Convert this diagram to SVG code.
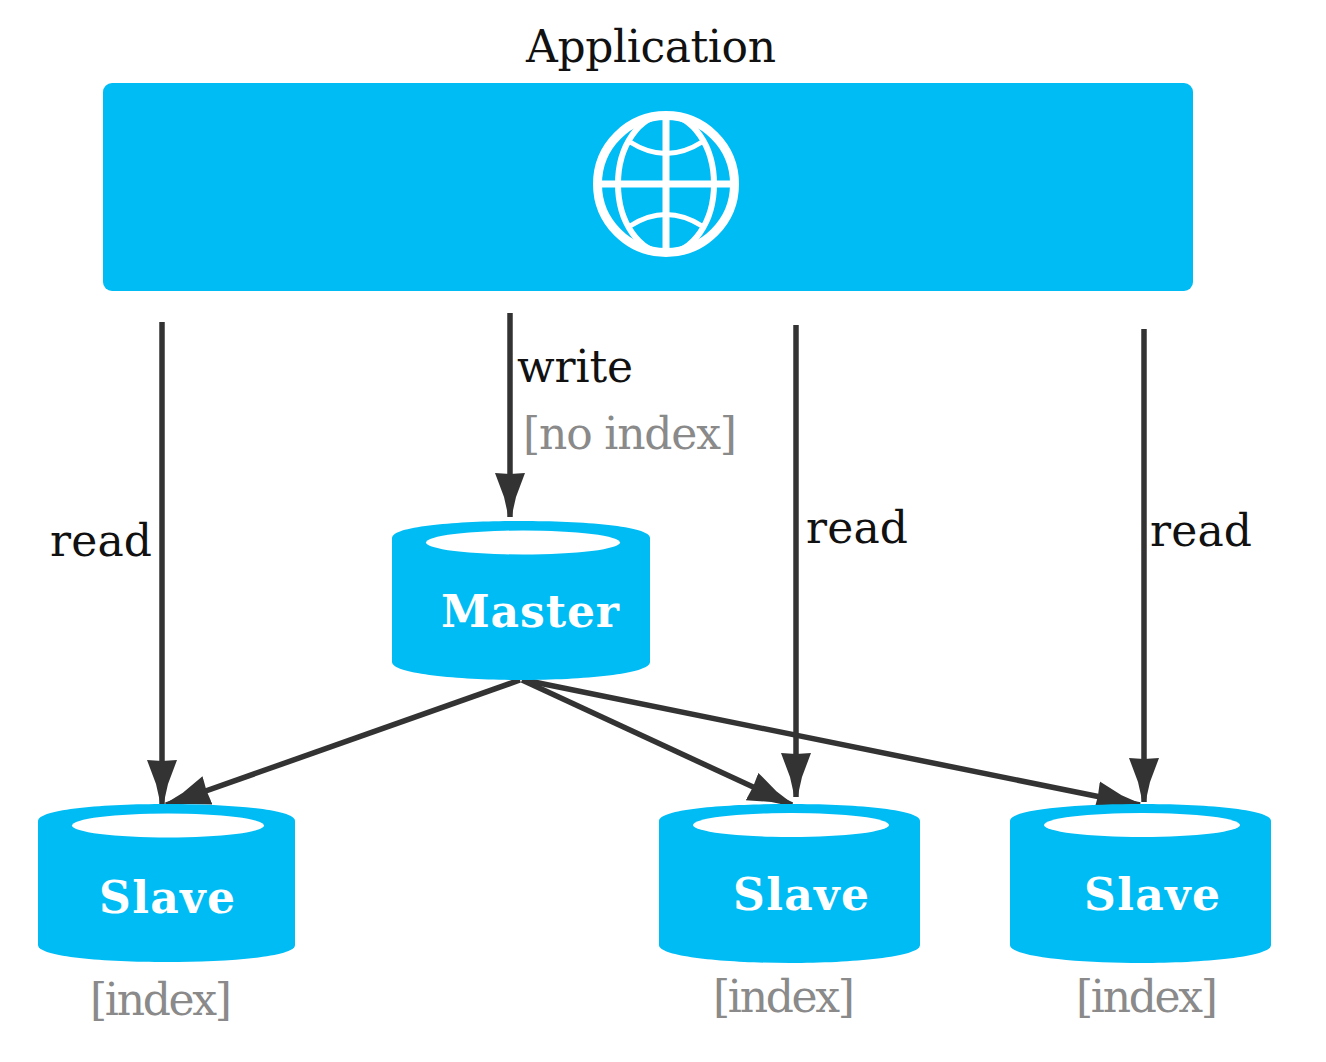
<svg xmlns="http://www.w3.org/2000/svg" width="1326" height="1062" viewBox="0 0 1326 1062">
<style>
text{font-family:"DejaVu Serif","Liberation Serif",serif}
.lbl{font-size:44px;fill:#111}
.note{font-size:44px;fill:#8a8a8a}
.db{font-size:44px;font-weight:bold;fill:#fff}
.body{fill:#00bcf5}
.hole{fill:#fff}
.conn{fill:none;stroke:#333;stroke-width:5.500}
.globe{fill:none;stroke:#fff}
</style>
<defs>
<marker id="arrow" markerUnits="userSpaceOnUse" markerWidth="50" markerHeight="36" refX="44" refY="17" orient="auto">
<path d="M0 2 L24 11 L44 15.500 L44 18.500 L24 23 L0 32 L1 17 Z" fill="#333"/>
</marker>
</defs>
<rect width="1326" height="1062" fill="#fff"/>
<g id="application">
<rect x="103" y="83" width="1090" height="208" rx="9" class="body"/>
<g class="globe">
<circle cx="666" cy="184" r="68.500" stroke-width="9"/>
<ellipse cx="666" cy="184" rx="48" ry="69" stroke-width="6"/>
<path d="M666 118V250M598 184H734" stroke-width="7"/>
<path d="M630 142Q666 165 702 142M630 226Q666 203 702 226" stroke-width="5"/>
</g>
<text x="651" y="62" text-anchor="middle" class="lbl" textLength="250">Application</text>
</g>
<g id="connectors">
<path class="conn" d="M162 322V804" marker-end="url(#arrow)"/>
<path class="conn" d="M510 313V517" marker-end="url(#arrow)"/>
<path class="conn" d="M796 325V797" marker-end="url(#arrow)"/>
<path class="conn" d="M1144 329V802" marker-end="url(#arrow)"/>
<path class="conn" d="M520 680L166 805" marker-end="url(#arrow)"/>
<path class="conn" d="M522 680L792 805" marker-end="url(#arrow)"/>
<path class="conn" d="M524 680L1140 805" marker-end="url(#arrow)"/>
</g>
<g id="master">
<path class="body" d="M392 538C392 526 460 521 521 521C582 521 650 526 650 538V662C650 674 582 680 521 680C460 680 392 674 392 662Z"/>
<ellipse cx="523" cy="542.500" rx="97" ry="12" class="hole"/>
<text x="530" y="627" text-anchor="middle" class="db" textLength="178">Master</text>
</g>
<g id="slave1">
<path class="body" d="M38 821C38 809 106 804 166 804C227 804 295 809 295 821V945C295 957 227 962 166 962C106 962 38 957 38 945Z"/>
<ellipse cx="168" cy="825.500" rx="96" ry="12" class="hole"/>
<text x="167" y="913" text-anchor="middle" class="db" textLength="136">Slave</text>
<text x="161" y="1015" text-anchor="middle" class="note" textLength="142">[index]</text>
</g>
<g id="slave2">
<path class="body" d="M659 821C659 809 728 804 790 804C851 804 920 809 920 821V945C920 957 851 963 790 963C728 963 659 957 659 945Z"/>
<ellipse cx="791" cy="825" rx="98" ry="12" class="hole"/>
<text x="801" y="910" text-anchor="middle" class="db" textLength="136">Slave</text>
<text x="784" y="1012" text-anchor="middle" class="note" textLength="142">[index]</text>
</g>
<g id="slave3">
<path class="body" d="M1010 821C1010 809 1079 804 1141 804C1202 804 1271 809 1271 821V945C1271 957 1202 963 1141 963C1079 963 1010 957 1010 945Z"/>
<ellipse cx="1142" cy="825" rx="98" ry="12" class="hole"/>
<text x="1152" y="910" text-anchor="middle" class="db" textLength="136">Slave</text>
<text x="1147" y="1012" text-anchor="middle" class="note" textLength="142">[index]</text>
</g>
<g id="labels">
<text x="101" y="556" text-anchor="middle" class="lbl" textLength="102">read</text>
<text x="575" y="382" text-anchor="middle" class="lbl" textLength="116">write</text>
<text x="630" y="449" text-anchor="middle" class="note" textLength="214">[no index]</text>
<text x="857" y="543" text-anchor="middle" class="lbl" textLength="102">read</text>
<text x="1201" y="546" text-anchor="middle" class="lbl" textLength="102">read</text>
</g>
</svg>
